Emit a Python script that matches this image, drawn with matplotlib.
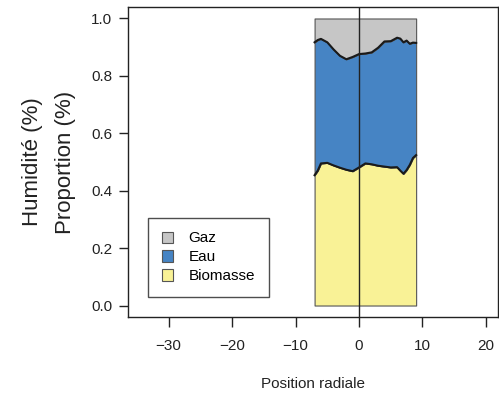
import numpy as np
import matplotlib
matplotlib.use("Agg")
import matplotlib.pyplot as plt

plt.rcParams['font.family'] = ['Liberation Sans', 'DejaVu Sans']

# radial positions and layer proportions
position = [-7, -6.5, -6, -5, -4, -3, -2, -1, 0, 1, 2, 3, 4, 5, 6, 6.5, 7, 7.5, 8, 8.5, 9]
biomasse = [0.454, 0.470, 0.495, 0.497, 0.488, 0.480, 0.473, 0.468, 0.481, 0.495, 0.492,
            0.487, 0.484, 0.481, 0.482, 0.470, 0.459, 0.472, 0.490, 0.514, 0.524]
eau = [0.463, 0.455, 0.434, 0.420, 0.404, 0.390, 0.385, 0.398, 0.395, 0.383, 0.390,
       0.411, 0.436, 0.440, 0.451, 0.460, 0.458, 0.451, 0.422, 0.402, 0.391]
gaz = [0.083, 0.075, 0.071, 0.083, 0.108, 0.130, 0.142, 0.134, 0.124, 0.122, 0.118,
       0.102, 0.080, 0.079, 0.067, 0.070, 0.083, 0.077, 0.088, 0.084, 0.085]
labels = ['Biomasse', 'Eau', 'Gaz']
colors = ['#f9f296', '#4684c4', '#c6c6c6']

fig = plt.figure(figsize=(4.99, 3.96), dpi=100)
ax = fig.add_axes([0.2565, 0.1995, 0.7415, 0.7828])

x = np.array(position)
b = np.array(biomasse)
e = np.array(eau)
g = np.array(gaz)

polys = ax.stackplot(x, b, e, g, colors=colors, labels=labels,
                     edgecolor='#555555', linewidth=0.8)
ax.plot(x, b, color='#1a1a1a', lw=1.5)
ax.plot(x, b + e, color='#1a1a1a', lw=1.5)
ax.axvline(0, color='#222222', lw=1)

ax.set_xlim(-36.4, 21.9)
ax.set_ylim(-0.04, 1.04)
ax.set_xticks([-30, -20, -10, 0, 10, 20])
ax.set_yticks([0, 0.2, 0.4, 0.6, 0.8, 1.0])
ax.set_yticklabels(['0.0', '0.2', '0.4', '0.6', '0.8', '1.0'])
ax.xaxis.set_major_formatter(matplotlib.ticker.FuncFormatter(
    lambda v, p: '\u2212%d' % -v if v < 0 else '%d' % v))
ax.tick_params(axis='x', length=7, width=1, pad=9, labelsize=11, colors='#222222')
ax.tick_params(axis='y', length=6.5, width=1, pad=5, labelsize=11, colors='#222222')
for s in ax.spines.values():
    s.set_color('#222222')
    s.set_linewidth(1)

ax.set_xlabel('Position radiale', fontsize=11, labelpad=17, color='#222222')
ax.set_ylabel('Humidité (%)\nProportion (%)', fontsize=16, labelpad=11,
              color='#222222', linespacing=1.75)

handles, labs = ax.get_legend_handles_labels()
leg = ax.legend(handles[::-1], labs[::-1], loc='lower left',
                bbox_to_anchor=(0.054, 0.0645), borderaxespad=0,
                fontsize=11, fancybox=False, edgecolor='#222222',
                handlelength=0.75, handleheight=0.75, handletextpad=1.0,
                labelspacing=0.32, borderpad=0.9)
leg.get_frame().set_linewidth(1)
for h in leg.legend_handles:
    h.set_edgecolor('#555555')

fig.savefig('out.png', dpi=100)
